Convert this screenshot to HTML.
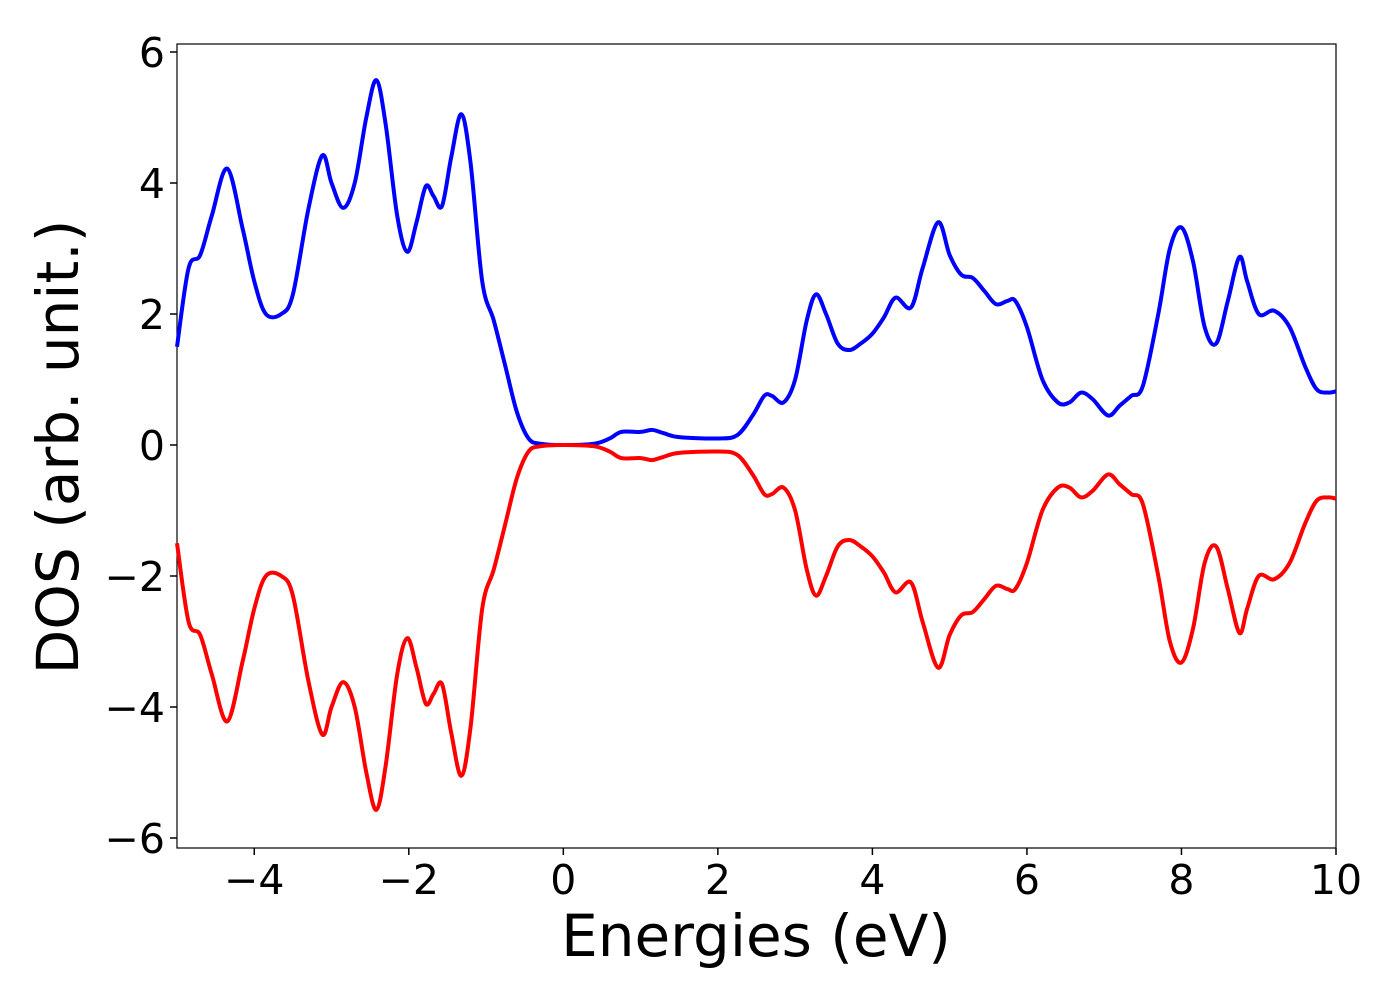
<!DOCTYPE html>
<html><head><meta charset="utf-8"><style>
body{margin:0;background:#fff;}
svg text{font-family:"DejaVu Sans","Liberation Sans",sans-serif;fill:#000;}
</style></head><body>
<svg id="chart" width="1400" height="1000" viewBox="0 0 1400 1000" xmlns="http://www.w3.org/2000/svg">
<rect x="177" y="44" width="1159" height="804" fill="#fff" stroke="#000" stroke-width="1.2"/>
<g id="lines"></g>
<g id="axes"></g>
<text x="756" y="956" font-size="58" text-anchor="middle">Energies (eV)</text>
<text transform="translate(78,447) rotate(-90)" font-size="58" text-anchor="middle">DOS (arb. unit.)</text>
</svg>
<script>
const energies=[-5,-4.85,-4.7,-4.55,-4.35,-4.15,-4.0,-3.85,-3.65,-3.5,-3.3,-3.12,-3.0,-2.85,-2.7,-2.55,-2.42,-2.3,-2.15,-2.02,-1.9,-1.78,-1.68,-1.57,-1.45,-1.32,-1.2,-1.05,-0.9,-0.75,-0.6,-0.45,-0.3,0,0.4,0.6,0.75,1.0,1.15,1.3,1.5,2.0,2.25,2.45,2.6,2.7,2.85,3.0,3.15,3.27,3.4,3.55,3.7,3.85,4.0,4.15,4.3,4.5,4.65,4.85,5.0,5.15,5.3,5.45,5.6,5.75,5.85,6.0,6.2,6.4,6.55,6.7,6.85,7.05,7.2,7.35,7.5,7.7,7.85,8.0,8.15,8.3,8.45,8.6,8.75,8.85,9.0,9.2,9.4,9.6,9.75,9.9,10];
const dosUp=[1.5,2.7,2.9,3.5,4.22,3.3,2.5,2.0,2.0,2.3,3.6,4.42,4.0,3.62,4.0,5.0,5.57,4.9,3.5,2.95,3.4,3.95,3.8,3.65,4.4,5.05,4.3,2.5,1.9,1.2,0.5,0.1,0.02,0.0,0.02,0.1,0.2,0.2,0.23,0.18,0.12,0.1,0.15,0.45,0.75,0.75,0.65,1.0,1.9,2.3,2.0,1.55,1.45,1.55,1.7,1.95,2.25,2.1,2.7,3.4,2.9,2.6,2.55,2.35,2.15,2.2,2.2,1.8,1.0,0.65,0.65,0.8,0.7,0.45,0.6,0.75,0.9,2.0,3.0,3.32,2.8,1.8,1.55,2.2,2.87,2.5,2.0,2.05,1.8,1.2,0.85,0.8,0.82];
const dosDown=[-1.5,-2.7,-2.9,-3.5,-4.22,-3.3,-2.5,-2.0,-2.0,-2.3,-3.6,-4.42,-4.0,-3.62,-4.0,-5.0,-5.57,-4.9,-3.5,-2.95,-3.4,-3.95,-3.8,-3.65,-4.4,-5.05,-4.3,-2.5,-1.9,-1.2,-0.5,-0.1,-0.02,0.0,-0.02,-0.1,-0.2,-0.2,-0.23,-0.18,-0.12,-0.1,-0.15,-0.45,-0.75,-0.75,-0.65,-1.0,-1.9,-2.3,-2.0,-1.55,-1.45,-1.55,-1.7,-1.95,-2.25,-2.1,-2.7,-3.4,-2.9,-2.6,-2.55,-2.35,-2.15,-2.2,-2.2,-1.8,-1.0,-0.65,-0.65,-0.8,-0.7,-0.45,-0.6,-0.75,-0.9,-2.0,-3.0,-3.32,-2.8,-1.8,-1.55,-2.2,-2.87,-2.5,-2.0,-2.05,-1.8,-1.2,-0.85,-0.8,-0.82];
const xTicks=[-4,-2,0,2,4,6,8,10];
const yTicks=[-6,-4,-2,0,2,4,6];
const NS="http://www.w3.org/2000/svg";
const X0=177,X1=1336,Y0=44,Y1=848,XMIN=-5,XMAX=10;
function sx(v){return X0+(v-XMIN)/(XMAX-XMIN)*(X1-X0);}
function sy(v){return 445-v*65.5;}
function pathFor(xs,ys){
  const p=xs.map((x,i)=>[sx(x),sy(ys[i])]);
  let d="M"+p[0][0]+","+p[0][1];
  for(let i=0;i<p.length-1;i++){
    const a=p[Math.max(0,i-1)],b=p[i],c=p[i+1],e=p[Math.min(p.length-1,i+2)];
    const c1=[b[0]+(c[0]-a[0])/6,b[1]+(c[1]-a[1])/6],c2=[c[0]-(e[0]-b[0])/6,c[1]-(e[1]-b[1])/6];
    d+=` C${c1[0]},${c1[1]} ${c2[0]},${c2[1]} ${c[0]},${c[1]}`;
  }
  return d;
}
const lines=document.getElementById('lines');
[[dosUp,'#0000ff','spin-up-line'],[dosDown,'#ff0000','spin-down-line']].forEach(([ys,col,nm])=>{
  const el=document.createElementNS(NS,'path');
  el.setAttribute('d',pathFor(energies,ys));
  el.setAttribute('fill','none');el.setAttribute('stroke',col);el.setAttribute('stroke-width','4');
  
  
  lines.appendChild(el);
});
const axes=document.getElementById('axes');
const MINUS='\u2212';
xTicks.forEach(t=>{
  const l=document.createElementNS(NS,'line');
  l.setAttribute('x1',sx(t));l.setAttribute('x2',sx(t));l.setAttribute('y1',Y1);l.setAttribute('y2',Y1+7);l.setAttribute('stroke','#000');l.setAttribute('stroke-width','1.5');
  
  
  axes.appendChild(l);
  const tx=document.createElementNS(NS,'text');
  tx.setAttribute('x',sx(t));tx.setAttribute('y',894);tx.setAttribute('font-size','41');tx.setAttribute('text-anchor','middle');
  tx.textContent=(t<0?MINUS:'')+Math.abs(t);
  
  
  axes.appendChild(tx);
});
yTicks.forEach(t=>{
  const l=document.createElementNS(NS,'line');
  l.setAttribute('x1',X0-7);l.setAttribute('x2',X0);l.setAttribute('y1',sy(t));l.setAttribute('y2',sy(t));l.setAttribute('stroke','#000');l.setAttribute('stroke-width','1.5');
  
  
  axes.appendChild(l);
  const tx=document.createElementNS(NS,'text');
  tx.setAttribute('x',X0-12);tx.setAttribute('y',sy(t)+15);tx.setAttribute('font-size','41');tx.setAttribute('text-anchor','end');
  tx.textContent=(t<0?MINUS:'')+Math.abs(t);
  
  
  axes.appendChild(tx);
});
</script>
</body></html>
